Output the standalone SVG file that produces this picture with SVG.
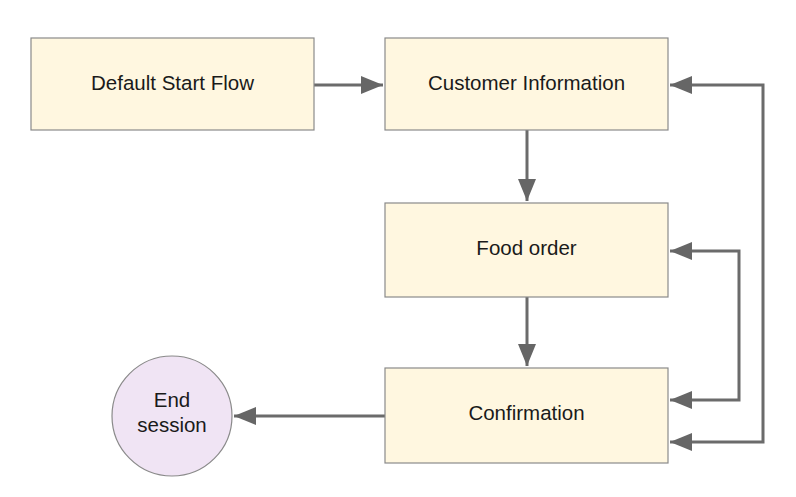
<svg xmlns="http://www.w3.org/2000/svg" width="796" height="497" viewBox="0 0 796 497">
<style>
.box{fill:#fff7e0;stroke:#8a8a8a;stroke-width:1.2}
.t{font-family:"Liberation Sans",Arial,sans-serif;font-size:20.5px;fill:#1a1a1a;text-anchor:middle}
.c{fill:none;stroke:#6b6b6b;stroke-width:3}
</style>
<defs>
<marker id="a" markerUnits="userSpaceOnUse" markerWidth="24" markerHeight="18" refX="22" refY="9" orient="auto">
<path d="M0,0 L22,9 L0,18 Z" fill="#666"/>
</marker>
</defs>
<rect width="796" height="497" fill="#fff"/>
<g id="connectors">
<path class="c" d="M314,85 H383" marker-end="url(#a)"/>
<path class="c" d="M527,130 V201" marker-end="url(#a)"/>
<path class="c" d="M527,297 V366" marker-end="url(#a)"/>
<path class="c" d="M385,416 H234" marker-end="url(#a)"/>
<path class="c" d="M690,400 H739 V251 H670" marker-end="url(#a)"/>
<path class="c" d="M690,400 H670" marker-end="url(#a)"/>
<path class="c" d="M690,442 H763 V85 H670" marker-end="url(#a)"/>
<path class="c" d="M690,442 H670" marker-end="url(#a)"/>
</g>
<g id="default-start"><rect class="box" x="31" y="38" width="283" height="92"/><text class="t" x="172.5" y="90">Default Start Flow</text></g>
<g id="customer-info"><rect class="box" x="385" y="38" width="283" height="92"/><text class="t" x="526.5" y="90">Customer Information</text></g>
<g id="food-order"><rect class="box" x="385" y="203" width="283" height="94"/><text class="t" x="526.5" y="255">Food order</text></g>
<g id="confirmation"><rect class="box" x="385" y="368" width="283" height="95"/><text class="t" x="526.5" y="420">Confirmation</text></g>
<g id="end-session"><circle cx="172" cy="416" r="60" fill="#f0e4f4" stroke="#8a8a8a" stroke-width="1.2"/><text class="t" x="172" y="407">End</text><text class="t" x="172" y="432">session</text></g>
</svg>
